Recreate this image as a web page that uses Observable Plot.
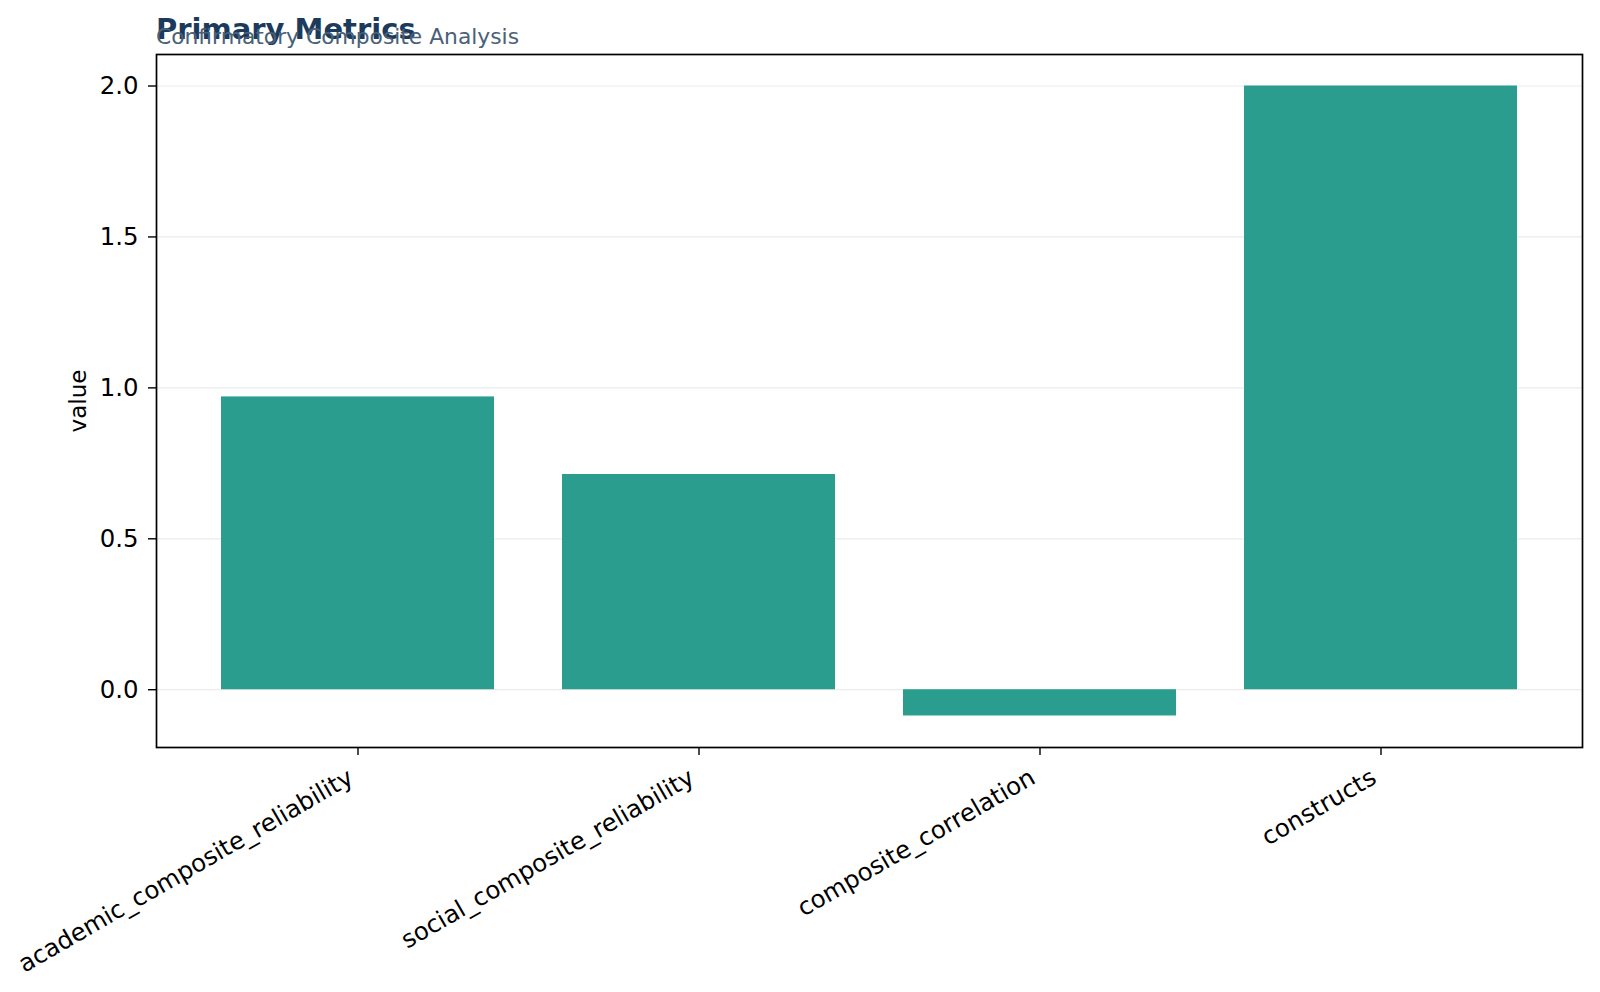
<!DOCTYPE html>
<html>
<head>
<meta charset="utf-8">
<script src="https://cdn.jsdelivr.net/npm/d3@7"></script>
<script src="https://cdn.jsdelivr.net/npm/@observablehq/plot@0.6"></script>
<style>
  html, body { margin: 0; padding: 0; background: #fff; }
  #wrap { position: relative; width: 1600px; height: 992px; font-family: "DejaVu Sans", sans-serif; }
  #title { position: absolute; left: 156px; top: 15px; font-size: 29px; font-weight: bold; color: #1b3a5c; white-space: nowrap; line-height: 1; }
  #subtitle { position: absolute; left: 156px; top: 26px; font-size: 21.8px; color: #4a6178; white-space: nowrap; line-height: 1; }
  #chart { position: absolute; left: 0; top: 0; }
</style>
</head>
<body>
<div id="wrap">
  <div id="chart"></div>
  <div id="title">Primary Metrics</div>
  <div id="subtitle">Confirmatory Composite Analysis</div>
</div>
<script>
const metrics = ["academic_composite_reliability", "social_composite_reliability", "composite_correlation", "constructs"];
const values = [0.970, 0.713, -0.087, 2.0];
const yTicks = [0.0, 0.5, 1.0, 1.5, 2.0];

const data = metrics.map((m, i) => ({metric: m, value: values[i]}));

const chart = Plot.plot({
  width: 1600,
  height: 992,
  marginLeft: 156,
  marginRight: 18,
  marginTop: 54,
  marginBottom: 245,
  style: {fontFamily: "DejaVu Sans, sans-serif", fontSize: "22px", color: "#000", background: "#fff"},
  x: {domain: metrics, paddingInner: 0.2, paddingOuter: 0.19, label: null},
  y: {domain: [-0.1914, 2.1044], label: null},
  marks: [
    Plot.gridY(yTicks, {stroke: "#ebebeb", strokeOpacity: 1, strokeWidth: 1.2}),
    Plot.barY(data, {x: "metric", y: "value", fill: "#2a9d8f"}),
    Plot.axisY(yTicks, {tickFormat: d3.format(".1f"), tickSize: 8, tickPadding: 10, fontSize: 24.4, strokeWidth: 1.4, label: null}),
    Plot.axisX({tickSize: 8, tickFormat: () => "", strokeWidth: 1.4, label: null}),
    Plot.axisX({tickSize: 0, tickRotate: -30, tickPadding: 28, dx: -7, fontSize: 24.4, label: null}),
    Plot.text(["value"], {frameAnchor: "left", textAnchor: "middle", dx: -78, rotate: -90, fontSize: 23, fill: "#000"}),
    Plot.frame({stroke: "#000", strokeWidth: 1.7})
  ]
});
document.getElementById("chart").appendChild(chart);
</script>
</body>
</html>
